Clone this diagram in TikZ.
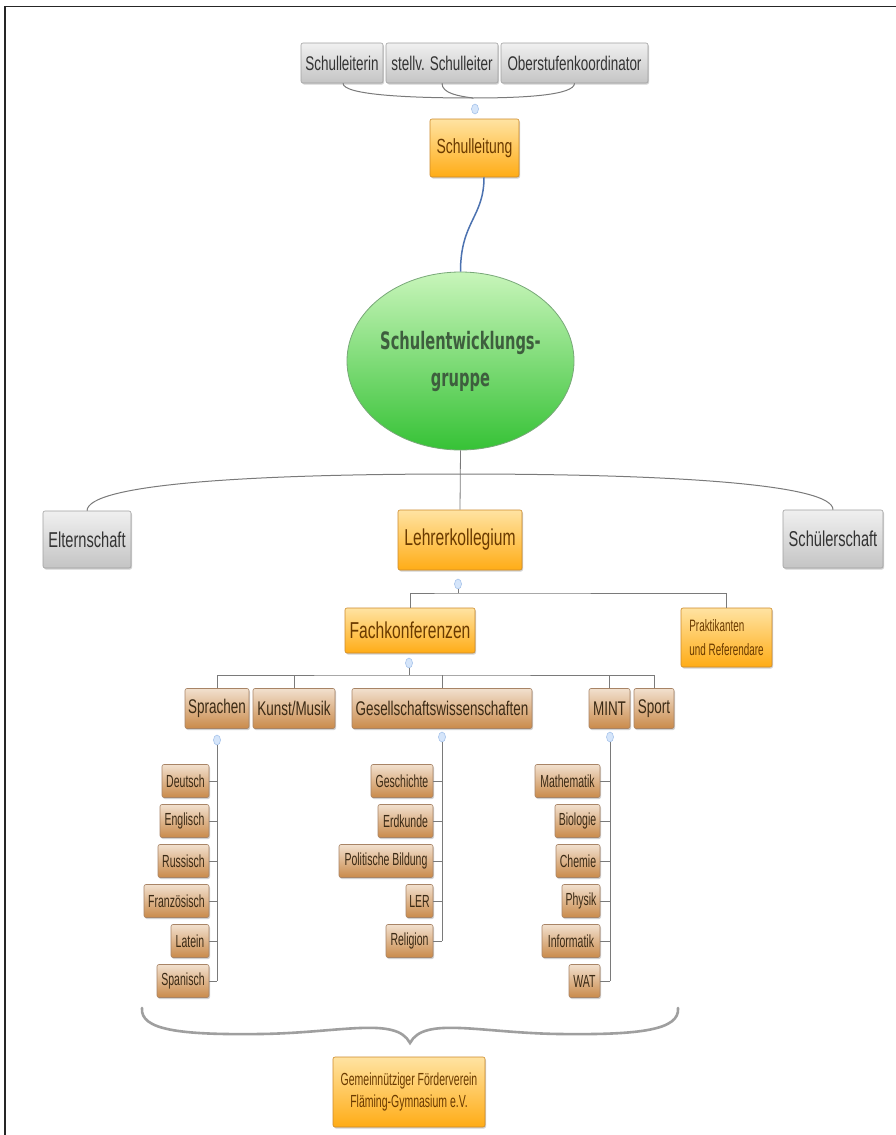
\documentclass[tikz,border=0pt]{standalone}
\usepackage{fontspec}
\setmainfont{Liberation Sans}
\newfontfamily\nf[FakeStretch=0.68]{Liberation Sans}
\newfontfamily\sn[FakeStretch=0.6]{Liberation Sans}
\newfontfamily\eg[FakeStretch=0.61]{DejaVu Sans}
\usetikzlibrary{shapes.geometric,shadows}
\definecolor{grT}{HTML}{F0F0F0}
\definecolor{grB}{HTML}{C4C4C4}
\definecolor{grD}{HTML}{A0A0A0}
\definecolor{grTx}{HTML}{333333}
\definecolor{orT}{HTML}{FFE3A2}
\definecolor{orB}{HTML}{FFAC16}
\definecolor{orD}{HTML}{CC8A2A}
\definecolor{orTx}{HTML}{6A3A00}
\definecolor{brT}{HTML}{F2E0CE}
\definecolor{brB}{HTML}{C98A4A}
\definecolor{brD}{HTML}{A88466}
\definecolor{brTx}{HTML}{3B2A15}
\definecolor{gnT}{HTML}{C8F5BA}
\definecolor{gnB}{HTML}{36C236}
\definecolor{gnD}{HTML}{78A878}
\definecolor{gnTx}{HTML}{3E5E3E}
\definecolor{lnC}{HTML}{7A7A7A}
\definecolor{blC}{HTML}{4C72B0}
\definecolor{mkF}{HTML}{D5E5FA}
\definecolor{mkD}{HTML}{9DBDE8}
\begin{document}
\begin{tikzpicture}[x=1pt,y=-1pt,
  box/.style={rectangle, rounded corners=2pt, inner sep=0pt, align=center, line width=0.6pt,
    general shadow={fill=black, opacity=0.18, shadow xshift=1pt, shadow yshift=-1.5pt}},
  gbox/.style={box, draw=grD, top color=grT, bottom color=grB, text=grTx},
  obox/.style={box, draw=orD, top color=orT, bottom color=orB, text=orTx},
  bbox/.style={box, draw=brD, top color=brT, bottom color=brB, text=brTx},
  big/.style={font=\nf\fontsize{23}{26}\selectfont},
  mid/.style={font=\nf\fontsize{19.8}{22}\selectfont},
  small/.style={font=\sn\fontsize{17.5}{20}\selectfont},
  leaf/.style={bbox, small, minimum height=33pt},
  conn/.style={draw=lnC, line width=0.8pt},
  dotmark/.style={ellipse, minimum width=7pt, minimum height=10pt, inner sep=0pt, fill=mkF, draw=mkD, line width=0.5pt}]
\useasboundingbox (0,0) rectangle (896,1135);
\fill[white] (0,0) rectangle (896,1135);
\draw[line width=1.6pt, black!85] (5,1135) -- (5,6.5) -- (896,6.5);

% top row
\node[gbox, mid, minimum width=82pt, minimum height=40pt] (sl1) at (342,63) {Schulleiterin};
\node[gbox, mid, minimum width=112pt, minimum height=40pt] (sl2) at (442,63) {stellv. Schulleiter};
\node[gbox, mid, minimum width=147pt, minimum height=40pt] (sl3) at (574.5,63) {Oberstufenkoordinator};
\coordinate (hub) at (473,98);
\draw[conn, line width=1pt] ([xshift=1pt]sl1.south) .. controls +(0,12) and +(-60,0) .. (hub);
\draw[conn, line width=1pt] (sl2.south) .. controls +(0,10) and +(-15,-2) .. (hub);
\draw[conn, line width=1pt] (sl3.south) .. controls +(0,12) and +(50,0) .. (hub);
\node[dotmark] (mk1) at (475,109) {};
\node[obox, font=\nf\fontsize{20.5}{23}\selectfont, minimum width=89pt, minimum height=58pt] (sl) at (474.5,148) {Schulleitung};

% ellipse
\node[ellipse, draw=gnD, line width=0.8pt, top color=gnT, bottom color=gnB, text=gnTx,
  minimum width=219pt, minimum height=178pt, inner sep=0pt, align=center,
  font=\eg\bfseries\fontsize{24}{37}\selectfont] (seg) at (460.5,361) {Schulentwicklungs-\\gruppe};
\draw[blC, line width=1.5pt] ([xshift=9.5pt]sl.south) .. controls +(0,40) and +(0,-50) .. (seg.north);

% second level
\node[gbox, font=\nf\fontsize{21.5}{24}\selectfont, minimum width=88pt, minimum height=57pt] (elt) at (87,539.5) {Elternschaft};
\node[obox, big, minimum width=124pt, minimum height=60pt] (lk) at (460,540) {Lehrerkollegium};
\node[gbox, font=\nf\fontsize{21.5}{24}\selectfont, minimum width=100pt, minimum height=58pt] (sch) at (833,539) {Schülerschaft};
\coordinate (arcTop) at (460,474);
\draw[conn] (seg.south) -- (lk.north);
\draw[conn, line width=1pt] (arcTop) .. controls (250,474) and (88,484) .. (elt.north);
\draw[conn, line width=1pt] (arcTop) .. controls (670,474) and (833,484) .. (sch.north);

% Fachkonferenzen level
\node[dotmark] (mk2) at (458,584) {};
\node[obox, big, minimum width=130pt, minimum height=45pt] (fach) at (410,630.5) {Fachkonferenzen};
\node[obox, font=\sn\fontsize{16.5}{24}\selectfont, align=left, minimum width=91pt, minimum height=59pt] (prakt) at (726.5,637.5) {Praktikanten\\und Referendare};
\coordinate (bar1) at (458,593);
\draw[conn] (mk2) -- (bar1);
\draw[conn] (fach.north) |- (bar1) -| (prakt.north);

% subject groups
\node[dotmark] (mk3) at (409,663) {};
\node[bbox, mid, minimum width=64pt, minimum height=40pt] (spr) at (217,708.5) {Sprachen};
\node[bbox, mid, minimum width=82pt, minimum height=40pt] (kun) at (294,708.5) {Kunst/Musik};
\node[bbox, mid, minimum width=180pt, minimum height=40pt] (ges) at (442,708.5) {Gesellschaftswissenschaften};
\node[bbox, mid, minimum width=41pt, minimum height=40pt] (mint) at (609.5,708.5) {MINT};
\node[bbox, mid, minimum width=40pt, minimum height=40pt] (sport) at (654,708.5) {Sport};
\coordinate (bar2) at (409,675);
\draw[conn] (mk3) -- (bar2);
\draw[conn] (spr.north) |- (bar2) -| (sport.north);
\draw[conn] (kun.north) -- (kun.north |- bar2);
\draw[conn] (ges.north) -- (ges.north |- bar2);
\draw[conn] (mint.north) -- (mint.north |- bar2);

\node[dotmark] (mk4) at (217,740) {};
\node[dotmark] (mk5) at (442,737) {};
\node[dotmark] (mk6) at (610,737) {};

% Sprachen leaves
\node[leaf, minimum width=47pt] (deu) at (185.5,781) {Deutsch};
\node[leaf, minimum width=49pt] (eng) at (184.5,821) {Englisch};
\node[leaf, minimum width=51pt] (rus) at (183.5,861) {Russisch};
\node[leaf, minimum width=65pt] (fra) at (176.5,901) {Französisch};
\node[leaf, minimum width=38pt] (lat) at (190,941) {Latein};
\node[leaf, minimum width=52pt] (spa) at (183,981) {Spanisch};
\draw[conn] (mk4) -- (spa.east -| mk4);
\foreach \n in {deu,eng,rus,fra,lat,spa} \draw[conn] (\n.east) -- (\n.east -| mk4);

% Gesellschaftswissenschaften leaves
\node[leaf, minimum width=62pt] (gesch) at (402,781) {Geschichte};
\node[leaf, minimum width=55pt] (erd) at (405.5,821) {Erdkunde};
\node[leaf, minimum width=94pt] (pol) at (386,861) {Politische Bildung};
\node[leaf, minimum width=27pt] (ler) at (419.5,901) {LER};
\node[leaf, minimum width=47pt] (rel) at (409.5,941) {Religion};
\draw[conn] (mk5) -- (rel.east -| mk5);
\foreach \n in {gesch,erd,pol,ler,rel} \draw[conn] (\n.east) -- (\n.east -| mk5);

% MINT leaves
\node[leaf, minimum width=65pt] (mat) at (567.5,781) {Mathematik};
\node[leaf, minimum width=45pt] (bio) at (577.5,821) {Biologie};
\node[leaf, minimum width=44pt] (che) at (578,861) {Chemie};
\node[leaf, minimum width=38pt] (phy) at (581,901) {Physik};
\node[leaf, minimum width=58pt] (inf) at (571,941) {Informatik};
\node[leaf, minimum width=31pt] (wat) at (584.5,981) {WAT};
\draw[conn] (mk6) -- (wat.east -| mk6);
\foreach \n in {mat,bio,che,phy,inf,wat} \draw[conn] (\n.east) -- (\n.east -| mk6);

% brace and Förderverein
\coordinate (tip) at (410,1043);
\draw[draw=gray!75, line width=2.6pt, line cap=round, line join=miter]
  (142,1008) .. controls (140,1030) and (180,1035) .. (260,1034)
  .. controls (340,1033) and (396,1016) .. (tip)
  .. controls (424,1016) and (480,1033) .. (560,1034)
  .. controls (640,1035) and (680,1030) .. (678,1008);
\node[obox, font=\sn\fontsize{17.5}{22}\selectfont, minimum width=152pt, minimum height=70pt] (fv) at (409,1092) {Gemeinnütziger Förderverein\\Fläming-Gymnasium e.V.};
\end{tikzpicture}
\end{document}
